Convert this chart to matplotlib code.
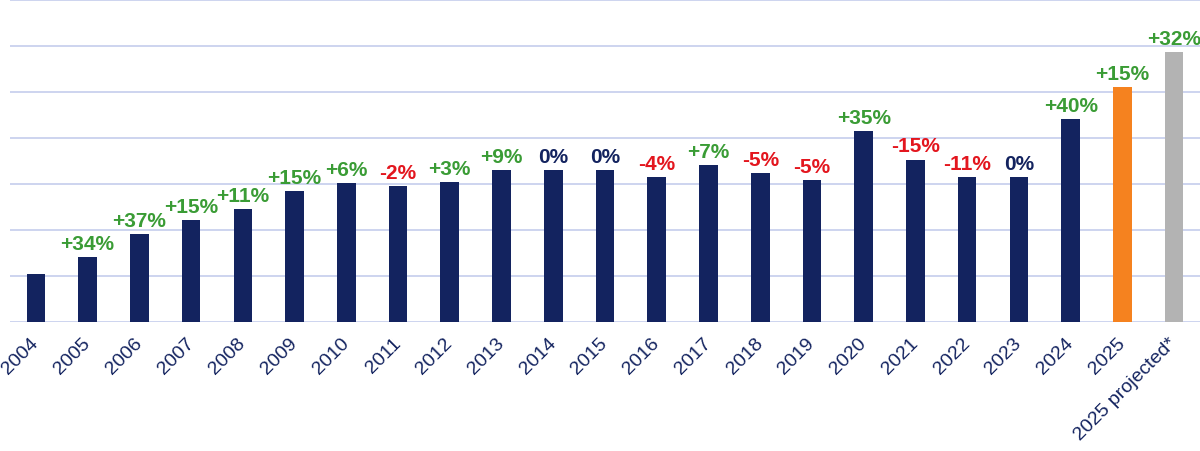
import matplotlib.pyplot as plt

plt.rcParams['font.family'] = ['Liberation Sans', 'DejaVu Sans']

# categories and values (grid step = 1 unit)
years = [str(y) for y in range(2004, 2026)] + ["2025 projected*"]
values = [1.04, 1.41, 1.91, 2.21, 2.46, 2.84, 3.02, 2.95, 3.04, 3.30, 3.30,
          3.30, 3.15, 3.41, 3.24, 3.08, 4.15, 3.53, 3.15, 3.15, 4.42, 5.10, 5.86]
changes = ["", "+34%", "+37%", "+15%", "+11%", "+15%", "+6%", "-2%", "+3%",
           "+9%", "0%", "0%", "-4%", "+7%", "-5%", "-5%", "+35%", "-15%",
           "-11%", "0%", "+40%", "+15%", "+32%"]

navy = "#13235f"
green = "#3a9c35"
red = "#e3161e"
bar_colors = [navy] * 21 + ["#f5821f", "#b3b3b3"]

def label_color(s):
    if s.startswith("+"):
        return green
    if s.startswith("-"):
        return red
    return navy

fig = plt.figure(figsize=(12, 4.52), dpi=100)
ax = fig.add_axes([10/1200, 129/452, 1190/1200, 322/452])

x = range(len(years))
ax.bar(x, values, width=0.36, color=bar_colors, zorder=3)

for i, (v, s) in enumerate(zip(values, changes)):
    if s:
        ax.text(i, v + 0.09, s, ha="center", va="bottom", fontsize=15,
                fontweight="bold", color=label_color(s), zorder=4)

ax.set_xlim(-0.5, len(years) - 0.5)
ax.set_ylim(0, 7)
ax.set_yticks(range(8))
ax.set_yticklabels([])
ax.yaxis.grid(True, color="#c9d1ee", lw=1.3, zorder=0)
ax.tick_params(axis="both", length=0)
ax.set_xticks(list(x))
ax.set_xticklabels(years, rotation=45, ha="right", va="center",
                   rotation_mode="anchor", fontsize=14, color=navy)
ax.tick_params(axis="x", pad=13)
for sp in ax.spines.values():
    sp.set_visible(False)
ax.set_axisbelow(True)

fig.savefig("out.png", dpi=100)
